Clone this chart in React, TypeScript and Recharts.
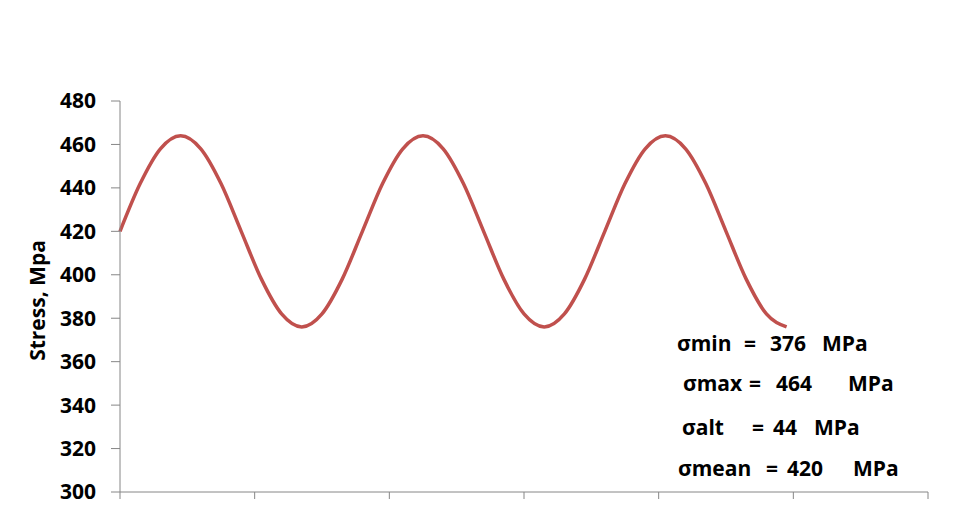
import { Label, Line, LineChart, XAxis, YAxis } from 'recharts'

// angle (deg) and stress (MPa)
const angles = [0, 30, 60, 90, 120, 150, 180, 210, 240, 270, 300, 330, 360, 390, 420, 450, 480, 510, 540, 570, 600, 630, 660, 690, 720, 750, 780, 810, 840, 870, 900, 930, 960, 990]
const stress = [420, 442, 458, 464, 458, 442, 420, 398, 382, 376, 382, 398, 420, 442, 458, 464, 458, 442, 420, 398, 382, 376, 382, 398, 420, 442, 458, 464, 458, 442, 420, 398, 382, 376]

const xTicks = [0, 200, 400, 600, 800, 1000, 1200]
const yTicks = [300, 320, 340, 360, 380, 400, 420, 440, 460, 480]

const notes = [
  { parts: ['σmin', '=', '376', 'MPa'], xs: [677, 744, 770, 822], y: 351 },
  { parts: ['σmax', '=', '464', 'MPa'], xs: [683, 749, 776, 848], y: 391 },
  { parts: ['σalt', '=', '44', 'MPa'], xs: [682, 752, 773, 814], y: 435 },
  { parts: ['σmean', '=', '420', 'MPa'], xs: [678, 766, 787, 853], y: 476 },
]

const data = angles.map((a, i) => ({ angle: a, stress: stress[i] }))

const font = '"Open Sans", sans-serif'
const axisGray = '#868686'

function YTitle(props: any) {
  const vb = props.viewBox
  const cy = vb.y + vb.height / 2 + 4
  return (
    <text x={45} y={cy} transform={`rotate(-90 45 ${cy})`} textAnchor="middle" fontFamily={font} fontWeight="bold" fontSize={21} fill="#000">
      Stress, Mpa
    </text>
  )
}

export default function App() {
  return (
    <div style={{ position: 'absolute', left: 0, top: 0, width: 974, height: 519, background: '#fff' }}>
      <LineChart width={974} height={519} data={data} margin={{ top: 101, right: 46, bottom: 0, left: 0 }}>
        <XAxis
          type="number"
          dataKey="angle"
          domain={[0, 1200]}
          ticks={xTicks}
          tick={() => <g />}
          tickSize={7}
          height={27}
          axisLine={{ stroke: axisGray }}
          tickLine={{ stroke: axisGray }}
        />
        <YAxis
          type="number"
          domain={[300, 480]}
          ticks={yTicks}
          interval={0}
          width={120}
          tickSize={9}
          tickMargin={15}
          axisLine={{ stroke: axisGray }}
          tickLine={{ stroke: axisGray }}
          tick={{ fill: '#000', fontFamily: font, fontWeight: 'bold', fontSize: 21 }}
        >
          <Label content={YTitle} />
        </YAxis>
        <Line
          type="monotone"
          dataKey="stress"
          stroke="#c0504d"
          strokeWidth={3.5}
          dot={false}
          isAnimationActive={false}
        />
      </LineChart>
      <svg width={974} height={519} style={{ position: 'absolute', left: 0, top: 0, pointerEvents: 'none' }}>
        {notes.map((n) =>
          n.parts.map((p, j) => (
            <text key={n.y + '-' + j} x={n.xs[j]} y={n.y} fontFamily={font} fontWeight="bold" fontSize={21} fill="#000">
              {p}
            </text>
          ))
        )}
      </svg>
    </div>
  )
}
